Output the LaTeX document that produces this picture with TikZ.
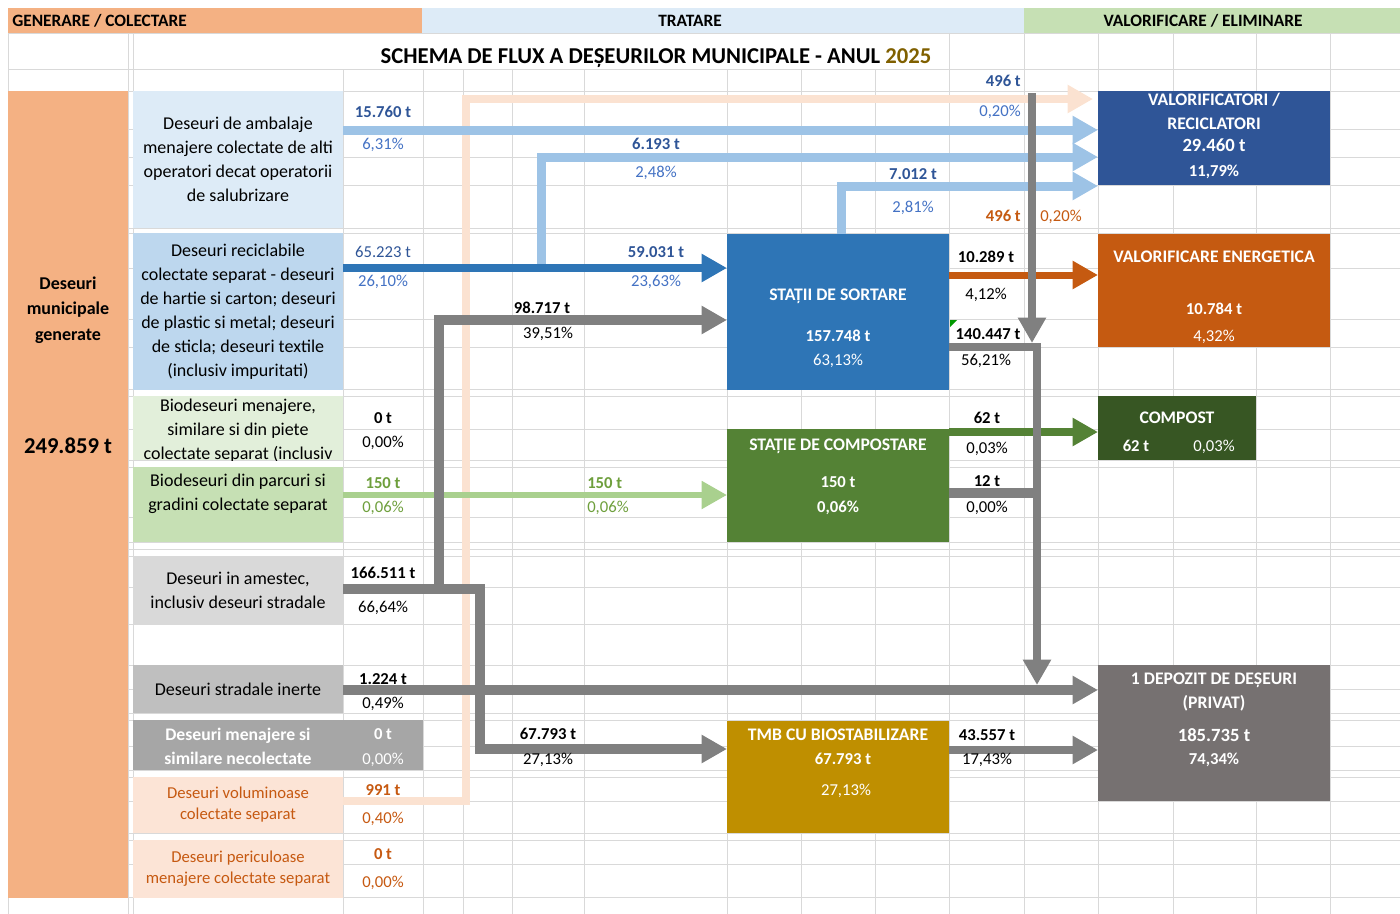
\documentclass[tikz,border=0pt]{standalone}
\usepackage{fontspec}
\setmainfont{Carlito}
\usetikzlibrary{arrows.meta,positioning}
\definecolor{cGen}{HTML}{F4B183}
\definecolor{cTrat}{HTML}{DDEBF7}
\definecolor{cVal}{HTML}{C6E0B4}
\definecolor{cAmb}{HTML}{DDEBF7}
\definecolor{cRec}{HTML}{BDD7EE}
\definecolor{cBio}{HTML}{E2EFDA}
\definecolor{cPark}{HTML}{C6E0B4}
\definecolor{cMix}{HTML}{D9D9D9}
\definecolor{cInert}{HTML}{BFBFBF}
\definecolor{cNecol}{HTML}{A6A6A6}
\definecolor{cPeach}{HTML}{FCE4D6}
\definecolor{cSort}{HTML}{2E75B6}
\definecolor{cCompst}{HTML}{548235}
\definecolor{cTmb}{HTML}{BF8F00}
\definecolor{cValrec}{HTML}{2F5597}
\definecolor{cEnerg}{HTML}{C55A11}
\definecolor{cCompost}{HTML}{375623}
\definecolor{cDepozit}{HTML}{767171}
\definecolor{cLb}{HTML}{9DC3E6}
\definecolor{cLg}{HTML}{A9D08E}
\definecolor{cGray}{HTML}{808080}
\definecolor{cPk}{HTML}{FBE2D1}
\definecolor{cOrT}{HTML}{C65911}
\definecolor{cBl}{HTML}{2F5597}
\definecolor{cBlL}{HTML}{4472C4}
\definecolor{cGnT}{HTML}{6E9F3C}
\definecolor{cYear}{HTML}{806000}
\definecolor{cGrid}{HTML}{D9D9D9}
\tikzstyle{cell}=[rectangle, inner sep=0pt, outer sep=0pt]
\tikzstyle{txt}=[inner sep=0pt, align=center, font=\fontsize{13.5}{18}\selectfont]
\tikzstyle{num}=[inner sep=0pt, text height=8pt, text depth=0pt, font=\fontsize{12.5}{15}\selectfont]
\tikzstyle{numb}=[num, font=\fontsize{12.5}{15}\selectfont\bfseries]
\tikzstyle{lbl}=[num, text height=8.5pt, font=\fontsize{13.25}{16}\selectfont\bfseries]
\tikzstyle{big}=[num, text height=9pt, font=\fontsize{14}{17}\selectfont\bfseries]
\tikzstyle{gridln}=[draw=cGrid, line width=0.75pt]
\tikzstyle{flow}=[line width=6.75pt, -{Triangle[length=19pt, width=20pt]}]
\tikzstyle{pipe}=[line width=7pt]

\begin{document}
\begin{tikzpicture}[x=0.75pt, y=-0.75pt]
    \useasboundingbox (0,0) rectangle (1400,914);

    % spreadsheet grid
    \foreach \gx in {8,128,133,343,423,463,512,584,727,801,875,949,1024,1098,1173,1256,1330}
        \draw[gridln] (\gx,8) -- (\gx,914);
    \foreach \gy in {8,33,69,91,129,157,185,228,233,268,319,347,389,396,429,460,467,517,542,549,556,587,624,665,689,713,720,746,770,777,801,833,840,864,897}
        \draw[gridln] (8,\gy) -- (1400,\gy);

    % header row
    \node[cell, fill=cGen, minimum width=310.5pt, minimum height=18.75pt] (hgen) at (215,20.5) {};
    \node[cell, fill=cTrat, minimum width=451.5pt, minimum height=18.75pt] (htrat) at (723,20.5) {};
    \node[cell, fill=cVal, minimum width=282pt, minimum height=18.75pt] (hval) at (1212,20.5) {};
    \node[lbl, font=\fontsize{13}{16}\selectfont\bfseries, anchor=west] (hgentxt) at (12,21) {GENERARE / COLECTARE};
    \node[lbl, font=\fontsize{13}{16}\selectfont\bfseries] (htrattxt) at (690,21) {TRATARE};
    \node[lbl, font=\fontsize{13}{16}\selectfont\bfseries] (hvaltxt) at (1203,21) {VALORIFICARE / ELIMINARE};

    % title
    \node[cell, fill=white, minimum width=454.5pt, minimum height=26.25pt] (title) at (646,51) {};
    \node[num, text height=11pt, font=\fontsize{17}{20}\selectfont\bfseries] (titletxt) at (656,56) {SCHEMA DE FLUX A DEȘEURILOR MUNICIPALE - ANUL \textcolor{cYear}{2025}};

    % generated waste
    \node[cell, fill=cGen, minimum width=90pt, minimum height=605.25pt] (gen) at (68,494.5) {};
    \node[txt, font=\fontsize{13.5}{19}\selectfont\bfseries] (gentxt) at (68,310) {Deseuri\\municipale\\generate};
    \node[num, text height=11pt, font=\fontsize{17}{20}\selectfont\bfseries] (gentot) at (68,446) {249.859 t};

    % sources
    \node[cell, txt, fill=cAmb, minimum width=157.5pt, minimum height=102.75pt] (srcamb) at (238,159.5) {Deseuri de ambalaje\\menajere colectate de alti\\operatori decat operatorii\\de salubrizare};
    \node[cell, txt, fill=cRec, minimum width=157.5pt, minimum height=117.75pt] (srcrec) at (238,311.5) {Deseuri reciclabile\\colectate separat - deseuri\\de hartie si carton; deseuri\\de plastic si metal; deseuri\\de sticla; deseuri textile\\(inclusiv impuritati)};
    \node[cell, fill=cBio, minimum width=157.5pt, minimum height=48pt] (srcbio) at (238,428) {};
    \begin{scope}
        \clip (133,396) rectangle (343,460);
        \node[txt] (biotxt) at (238,431) {Biodeseuri menajere,\\similare si din piete\\colectate separat (inclusiv};
    \end{scope}
    \node[cell, fill=cPark, minimum width=157.5pt, minimum height=56.25pt] (srcpark) at (238,504.5) {};
    \node[txt] (parktxt) at (238,494) {Biodeseuri din parcuri si\\gradini colectate separat};
    \node[cell, txt, fill=cMix, minimum width=157.5pt, minimum height=51.75pt] (srcmix) at (238,590.5) {Deseuri in amestec,\\inclusiv deseuri stradale};
    \node[cell, txt, fill=cInert, minimum width=157.5pt, minimum height=36pt] (srcinert) at (238,689) {Deseuri stradale inerte};
    \node[cell, fill=cNecol, minimum width=217.5pt, minimum height=37.5pt] (srcnecol) at (278,745) {};
    \node[txt, text=white, font=\fontsize{13.25}{18}\selectfont\bfseries] (necoltxt) at (238,746) {Deseuri menajere si\\similare necolectate};
    \node[cell, txt, fill=cPeach, text=cOrT, font=\fontsize{12.5}{15.75}\selectfont, minimum width=157.5pt, minimum height=42pt] (srcvol) at (238,805) {Deseuri voluminoase\\colectate separat};
    \node[cell, txt, fill=cPeach, text=cOrT, font=\fontsize{12.5}{15.75}\selectfont, minimum width=157.5pt, minimum height=43.5pt] (srcper) at (238,869) {Deseuri periculoase\\menajere colectate separat};

    % treatment
    \node[cell, fill=cSort, minimum width=166.5pt, minimum height=117pt] (sort) at (838,312) {};
    \node[cell, fill=cCompst, minimum width=166.5pt, minimum height=84.75pt] (compst) at (838,485.5) {};
    \node[cell, fill=cTmb, minimum width=166.5pt, minimum height=84pt] (tmb) at (838,777) {};

    % recovery / disposal
    \node[cell, fill=cValrec, minimum width=174pt, minimum height=70.5pt] (valrec) at (1214,138) {};
    \node[cell, fill=cEnerg, minimum width=174pt, minimum height=84.75pt] (energ) at (1214,290.5) {};
    \node[cell, fill=cCompost, minimum width=118.5pt, minimum height=48pt] (compost) at (1177,428) {};
    \node[cell, fill=cDepozit, minimum width=174pt, minimum height=102pt] (depozit) at (1214,733) {};

    % flows
    \coordinate (pk1) at (466,801);
    \coordinate (pk2) at (466,99);
    \draw[flow, cPk, line width=6pt, shorten >=3.75pt] (srcvol.east |- pk1) -- (pk1) -- (pk2) -- (valrec.west |- pk2);
    \coordinate (ya) at (0,130);
    \coordinate (yb) at (541,157);
    \coordinate (yc) at (841,186);
    \coordinate (yd) at (541,268);
    \draw[flow, cLb] (srcamb.east |- ya) -- (valrec.west |- ya);
    \draw[flow, cLb] (yd) -- (yb) -- (valrec.west |- yb);
    \draw[flow, cLb] (sort.north -| yc) -- (yc) -- (valrec.west |- yc);
    \draw[flow, cSort, line width=6pt] (srcrec.east |- yd) -- (sort.west |- yd);
    \coordinate (ye) at (0,495);
    \draw[flow, cLg, line width=4.5pt] (srcpark.east |- ye) -- (compst.west |- ye);
    \coordinate (mx1) at (480,589);
    \coordinate (mx2) at (480,749);
    \coordinate (mx3) at (439,589);
    \coordinate (mx4) at (439,320);
    \draw[flow, cGray, line width=7pt] (srcmix.east |- mx1) -- (mx1) -- (mx2) -- (tmb.west |- mx2);
    \draw[flow, cGray, line width=7pt] (mx3) -- (mx4) -- (sort.west |- mx4);
    \coordinate (yf) at (0,690);
    \draw[flow, cGray, line width=7pt] (srcinert.east |- yf) -- (depozit.west |- yf);
    \coordinate (yg) at (0,750);
    \draw[flow, cGray, line width=6pt] (tmb.east |- yg) -- (depozit.west |- yg);
    \coordinate (yh) at (0,275);
    \draw[flow, cEnerg, line width=5.25pt] (sort.east |- yh) -- (energ.west |- yh);
    \coordinate (yi) at (0,432);
    \draw[flow, cCompst, line width=6pt] (compst.east |- yi) -- (compost.west |- yi);
    \coordinate (sd1) at (1037,347);
    \coordinate (sd2) at (1037,685);
    \coordinate (sd3) at (1037,493);
    \draw[pipe, cGray] (compst.east |- sd3) -- (sd3);
    \draw[flow, cGray, line width=6.5pt] (sort.east |- sd1) -- (sd1) -- (sd2);
    \coordinate (tg1) at (1032,93);
    \coordinate (tg2) at (1032,343);
    \draw[flow, cGray, line width=6pt] (tg1) -- (tg2);
    \fill[green!60!black] (950,320) -- (957,320) -- (950,327) -- cycle;

    % quantities at the sources
    \node[numb, cBl] (vamb) at (383,112) {15.760 t};
    \node[num, cBlL] (pamb) at (383,144) {6,31\%};
    \node[num, cBl] (vrec) at (383,252) {65.223 t};
    \node[num, cBlL] (prec) at (383,281) {26,10\%};
    \node[numb] (vbio) at (383,418) {0 t};
    \node[num] (pbio) at (383,442) {0,00\%};
    \node[numb, cGnT] (vpark) at (383,483) {150 t};
    \node[num, cGnT] (ppark) at (383,507) {0,06\%};
    \node[numb] (vmix) at (383,573) {166.511 t};
    \node[num] (pmix) at (383,607) {66,64\%};
    \node[numb] (vinert) at (383,679) {1.224 t};
    \node[num] (pinert) at (383,703) {0,49\%};
    \node[numb, white] (vnecol) at (383,734) {0 t};
    \node[num, white] (pnecol) at (383,759) {0,00\%};
    \node[numb, cOrT] (vvol) at (383,790) {991 t};
    \node[num, cOrT] (pvol) at (383,818) {0,40\%};
    \node[numb, cOrT] (vper) at (383,854) {0 t};
    \node[num, cOrT] (pper) at (383,882) {0,00\%};

    % quantities along the flows
    \node[numb, cBl] (vbyp) at (656,144) {6.193 t};
    \node[num, cBlL] (pbyp) at (656,172) {2,48\%};
    \node[numb, cBl] (vsrt) at (656,252) {59.031 t};
    \node[num, cBlL] (psrt) at (656,281) {23,63\%};
    \node[numb] (vmxs) at (542,308) {98.717 t};
    \node[num] (pmxs) at (548,333) {39,51\%};
    \node[numb, cGnT, anchor=west] (vprk) at (587,483) {150 t};
    \node[num, cGnT, anchor=west] (pprk) at (587,507) {0,06\%};
    \node[numb] (vmxt) at (548,734) {67.793 t};
    \node[num] (pmxt) at (548,759) {27,13\%};
    \node[numb, cBl] (vsrv) at (913,174) {7.012 t};
    \node[num, cBlL] (psrv) at (913,207) {2,81\%};
    \node[numb, cBl, anchor=east] (vpk) at (1021,81) {496 t};
    \node[num, cBlL, anchor=east] (ppk) at (1021,111) {0,20\%};
    \node[numb, cEnerg, anchor=east] (vpk2) at (1021,216) {496 t};
    \node[num, cEnerg, anchor=west] (ppk2) at (1040,216) {0,20\%};
    \node[numb] (vsen) at (986,257) {10.289 t};
    \node[num] (psen) at (986,294) {4,12\%};
    \node[numb] (vsdp) at (988,334) {140.447 t};
    \node[num] (psdp) at (986,360) {56,21\%};
    \node[numb] (vcmp) at (987,418) {62 t};
    \node[num] (pcmp) at (987,448) {0,03\%};
    \node[numb] (vcdp) at (987,481) {12 t};
    \node[num] (pcdp) at (987,507) {0,00\%};
    \node[numb] (vtdp) at (987,735) {43.557 t};
    \node[num] (ptdp) at (987,759) {17,43\%};

    % box labels
    \node[lbl, white] (sortname) at (838,295) {STAȚII DE SORTARE};
    \node[numb, white] (sortval) at (838,336) {157.748 t};
    \node[num, white] (sortpct) at (838,360) {63,13\%};
    \node[lbl, white] (cmpname) at (838,445) {STAȚIE DE COMPOSTARE};
    \node[numb, white] (cmpval) at (838,482) {150 t};
    \node[numb, white] (cmppct) at (838,507) {0,06\%};
    \node[lbl, white] (tmbname) at (838,735) {TMB CU BIOSTABILIZARE};
    \node[numb, white] (tmbval) at (843,759) {67.793 t};
    \node[num, white] (tmbpct) at (846,790) {27,13\%};
    \node[lbl, white] (valname1) at (1214,100) {VALORIFICATORI /};
    \node[lbl, white] (valname2) at (1214,124) {RECICLATORI};
    \node[big, white] (valval) at (1214,145) {29.460 t};
    \node[numb, white] (valpct) at (1214,171) {11,79\%};
    \node[lbl, white] (enname) at (1214,257) {VALORIFICARE ENERGETICA};
    \node[numb, white] (enval) at (1214,309) {10.784 t};
    \node[num, white] (enpct) at (1214,336) {4,32\%};
    \node[lbl, white] (cpname) at (1177,418) {COMPOST};
    \node[numb, white] (cpval) at (1136,446) {62 t};
    \node[num, white] (cppct) at (1214,446) {0,03\%};
    \node[lbl, white] (dpname1) at (1214,679) {1 DEPOZIT DE DEȘEURI};
    \node[lbl, white] (dpname2) at (1214,703) {(PRIVAT)};
    \node[big, white] (dpval) at (1214,735) {185.735 t};
    \node[numb, white] (dppct) at (1214,759) {74,34\%};

\end{tikzpicture}
\end{document}
